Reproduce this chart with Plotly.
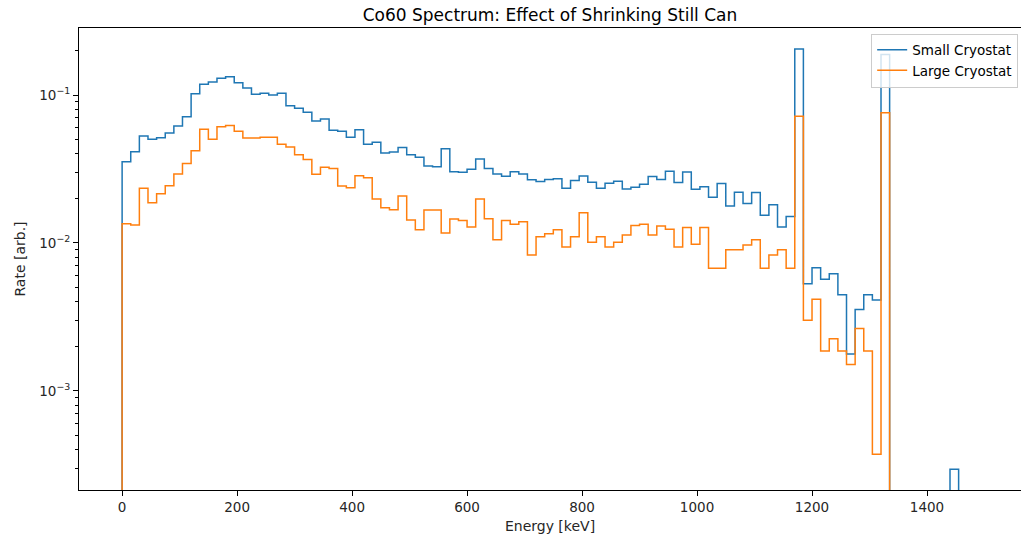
import numpy as np
import plotly.graph_objects as go

# ---- data (15 keV bins from 0 to 1500 keV) ----
bin_width_kev = 15
bin_edges = [i * bin_width_kev for i in range(101)]

small_cryostat = [
    0.0354, 0.0414, 0.0528, 0.0502, 0.0515, 0.0553, 0.0617, 0.0713, 0.102, 0.118,
    0.1224, 0.130, 0.133, 0.121, 0.1114, 0.101, 0.1026, 0.100, 0.1026, 0.0847,
    0.0813, 0.0764, 0.0667, 0.0689, 0.0577, 0.0569, 0.0518, 0.0583, 0.0465, 0.0479,
    0.0406, 0.0412, 0.0441, 0.0395, 0.0379, 0.0331, 0.0328, 0.0434, 0.0303, 0.0300,
    0.0315, 0.0370, 0.0319, 0.0292, 0.0282, 0.0303, 0.0292, 0.0267, 0.0260, 0.0269,
    0.0272, 0.0234, 0.0264, 0.0284, 0.0257, 0.0234, 0.0253, 0.0261, 0.0232, 0.0238,
    0.0249, 0.0281, 0.0268, 0.0305, 0.0256, 0.0302, 0.0231, 0.0240, 0.0204, 0.0252,
    0.0178, 0.0220, 0.0185, 0.0219, 0.0154, 0.0181, 0.0128, 0.0151, 0.2046, 0.00530,
    0.00680, 0.00569, 0.00620, 0.00446, 0.00178, 0.00355, 0.00446, 0.00412, 0.188, 0,
    0, 0, 0, 0, 0, 0, 0.000296, 0, 0, 0,
]

large_cryostat = [
    0.01351, 0.01324, 0.0234, 0.0187, 0.0215, 0.0244, 0.0292, 0.0345, 0.042, 0.0586,
    0.0502, 0.0611, 0.0621, 0.0569, 0.0513, 0.0513, 0.0518, 0.0518, 0.0465, 0.0445,
    0.0394, 0.0367, 0.0291, 0.0325, 0.0319, 0.0243, 0.0236, 0.0285, 0.0276, 0.0198,
    0.0173, 0.0168, 0.0208, 0.0143, 0.0123, 0.0167, 0.0167, 0.0117, 0.0145, 0.0142,
    0.0128, 0.0198, 0.0146, 0.0105, 0.0142, 0.0134, 0.0139, 0.0083, 0.0110, 0.01156,
    0.0123, 0.0094, 0.0110, 0.0160, 0.0101, 0.0110, 0.0094, 0.0101, 0.0113, 0.0131,
    0.0134, 0.0113, 0.0130, 0.0124, 0.0094, 0.0127, 0.0098, 0.0127, 0.00674, 0.00674,
    0.0090, 0.0090, 0.0097, 0.0105, 0.00674, 0.0083, 0.0090, 0.00674, 0.0718, 0.0030,
    0.00416, 0.00186, 0.00225, 0.00186, 0.00151, 0.00264, 0.00186, 0.000373, 0.076, 0,
    0, 0, 0, 0, 0, 0, 0, 0, 0, 0,
]

series_names = ["Small Cryostat", "Large Cryostat"]
series_colors = ["#1f77b4", "#ff7f0e"]
x_ticks = [0, 200, 400, 600, 800, 1000, 1200, 1400]
y_ticks = [1e-3, 1e-2, 1e-1]
y_ticklabels = ["10<sup>−3</sup>", "10<sup>−2</sup>", "10<sup>−1</sup>"]

FLOOR = 1e-8  # empty bins drop below the visible log range (like matplotlib step hist)


def step_outline(edges, values):
    vals = [v if v > 0 else FLOOR for v in values]
    xs = [edges[0]] + list(edges)
    ys = [FLOOR] + vals + [FLOOR]
    return xs, ys


fig = go.Figure()
for name, vals, color in zip(series_names, [small_cryostat, large_cryostat], series_colors):
    xs, ys = step_outline(bin_edges, vals)
    fig.add_trace(go.Scatter(
        x=xs, y=ys, name=name, mode="lines",
        line=dict(color=color, width=1.5, shape="hv"),
        hoverinfo="skip",
    ))

minor_vals = [m * 10.0 ** e for e in range(-5, 1) for m in range(2, 10)]

font_family = "DejaVu Sans, Liberation Sans, sans-serif"
fig.update_layout(
    width=1021, height=535,
    margin=dict(l=79, r=0, t=28, b=45),
    paper_bgcolor="white", plot_bgcolor="white",
    font=dict(family=font_family, size=13, color="#262626"),
    title=dict(text="Co60 Spectrum: Effect of Shrinking Still Can",
               x=0.5, xref="paper", xanchor="center",
               y=1, yref="paper", yanchor="bottom", pad=dict(b=7),
               font=dict(size=17, color="#000000")),
    showlegend=True,
    legend=dict(x=0.997, y=0.988, xanchor="right", yanchor="top",
                bgcolor="rgba(255,255,255,0.8)", bordercolor="#cccccc", borderwidth=1,
                font=dict(size=13.5, color="#000000"), tracegroupgap=0,
                itemwidth=30),
)
fig.update_xaxes(
    range=[-75, 1563.5], showgrid=False, zeroline=False,
    showline=True, linecolor="#000000", linewidth=1, mirror=True,
    ticks="outside", ticklen=5, tickwidth=1, tickcolor="#000000",
    tickvals=x_ticks, ticktext=[str(t) for t in x_ticks],
    tickfont=dict(size=13.5, color="#262626"),
    title=dict(text="Energy [keV]", standoff=6, font=dict(size=14, color="#262626")),
)
fig.update_yaxes(
    type="log", range=[np.log10(2.14e-4), np.log10(0.2837)],
    showgrid=False, zeroline=False,
    showline=True, linecolor="#000000", linewidth=1, mirror=False,
    ticks="outside", ticklen=5, tickwidth=1, tickcolor="#000000",
    tickvals=y_ticks, ticktext=y_ticklabels,
    tickfont=dict(size=13.5, color="#262626"),
    minor=dict(tickvals=minor_vals, ticks="outside", ticklen=3, tickwidth=1,
               tickcolor="#000000", showgrid=False),
    title=dict(text="Rate [arb.]", standoff=10, font=dict(size=14, color="#262626")),
)

fig.write_html(
    "out.html",
    config={"displayModeBar": False},
    post_script="document.body.style.margin='0';document.body.style.overflow='hidden';",
)
